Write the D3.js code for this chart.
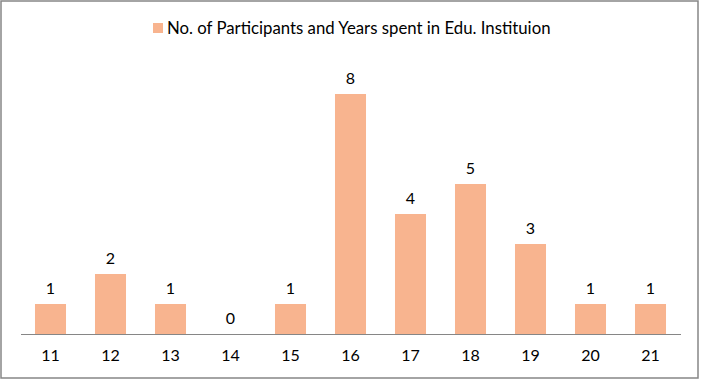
<!DOCTYPE html>
<html><head><meta charset="utf-8">
<script src="https://cdn.jsdelivr.net/npm/d3@7"></script>
<style>body{margin:0;background:#fff}svg{display:block}text{font-family:Lato,"Open Sans",sans-serif;fill:#000}</style>
</head><body>
<svg id="c" width="702" height="382"></svg>
<script>
const categories = ["11","12","13","14","15","16","17","18","19","20","21"];
const values = [1,2,1,0,1,8,4,5,3,1,1];
const seriesName = "No. of Participants and Years spent in Edu. Instituion";

const svg = d3.select("#c");
const color = "#F8B48F";
svg.append("rect").attr("x",1).attr("y",1).attr("width",697).attr("height",377)
  .attr("fill","#fff").attr("stroke","#868686").attr("stroke-width",1.5);

const x = d3.scaleBand().domain(categories).range([20.5,680.5]).paddingInner(0.483).paddingOuter(0.2415);
const y = d3.scaleLinear().domain([0,9]).range([334,64]);

svg.selectAll("rect.bar").data(values).join("rect").attr("class","bar")
  .attr("x",(d,i)=>x(categories[i])).attr("width",x.bandwidth())
  .attr("y",d=>y(d)).attr("height",d=>y(0)-y(d)).attr("fill",color);

svg.selectAll("text.val").data(values).join("text").attr("class","val")
  .attr("x",(d,i)=>x(categories[i])+x.bandwidth()/2).attr("y",d=>y(d)-10.5)
  .attr("text-anchor","middle").attr("font-size",16).text(d=>d);

const ax = svg.append("g").attr("transform","translate(0,334)")
  .call(d3.axisBottom(x).tickSize(0).tickPadding(15.5));
ax.select(".domain").attr("stroke","#868686").attr("stroke-width",1.2);
ax.selectAll("text").attr("font-size",16).style("font-family","Lato,'Open Sans',sans-serif").attr("fill","#000");

const lg = svg.append("g");
lg.append("rect").attr("x",153).attr("y",23).attr("width",10).attr("height",10).attr("fill",color);
const lt = lg.append("text").attr("x",167).attr("y",33.5).attr("font-size",15).text(seriesName);
const w = lt.node().getComputedTextLength();
lt.attr("font-size",15*384/w);
</script>
</body></html>
